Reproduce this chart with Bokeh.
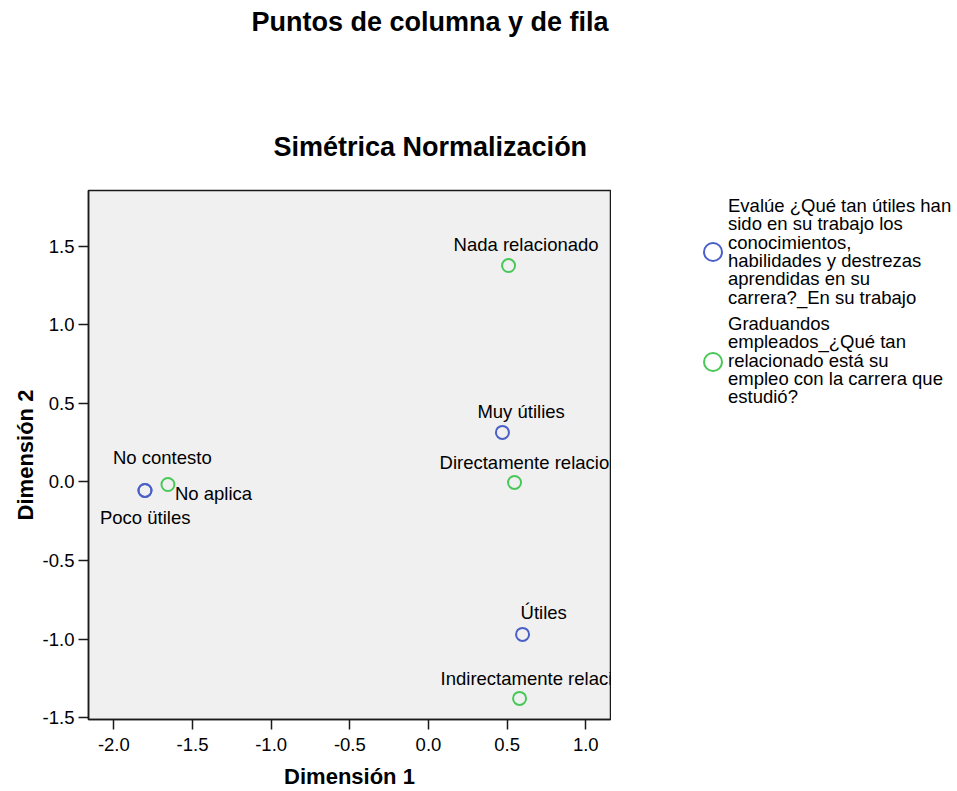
from bokeh.plotting import figure
from bokeh.layouts import row, column
from bokeh.models import (ColumnDataSource, Legend, LegendItem, Range1d, Title,
                          FixedTicker, NumeralTickFormatter)
from bokeh.core.properties import value
from bokeh.embed import file_html
from bokeh.resources import INLINE

# ---------------- data ----------------
row_categories = ["Muy útilies", "Útiles", "Poco ütiles", "No contesto"]
row_dim1 = [0.470, 0.598, -1.802, -1.802]
row_dim2 = [0.315, -0.969, -0.054, -0.054]

col_categories = ["Nada relacionado", "Directamente relacionado",
                  "Indirectamente relacionado", "No aplica"]
col_dim1 = [0.509, 0.547, 0.579, -1.656]
col_dim2 = [1.376, -0.003, -1.376, -0.016]

x_ticks = [-2.0, -1.5, -1.0, -0.5, 0.0, 0.5, 1.0]
y_ticks = [-1.5, -1.0, -0.5, 0.0, 0.5, 1.0, 1.5]

row_series_lines = ["Evalúe ¿Qué tan útiles han", "sido en su trabajo los",
                    "conocimientos,", "habilidades y destrezas",
                    "aprendidas en su", "carrera?_En su trabajo"]
col_series_lines = ["Graduandos", "empleados_¿Qué tan", "relacionado está su",
                    "empleo con la carrera que", "estudió?"]

main_title = "Puntos de columna y de fila"
sub_title = "Simétrica Normalización"
x_label = "Dimensión 1"
y_label = "Dimensión 2"

# ---------------- style ----------------
FONT = "Liberation Sans"
BLUE = "#4a60c8"
GREEN = "#48c858"
# label placement (screen px offsets, left aligned)
row_label_dx = [-25, -2, -45, -32]
row_label_dy = [-21, -22, 27, -33]
col_label_dx = [-55, -75, -79, 7]
col_label_dy = [-21, -20, -20, 9]

# ---------------- header (main title) ----------------
header = figure(width=611, height=100, output_backend="svg", toolbar_location=None,
                x_range=Range1d(0, 1), y_range=Range1d(0, 1),
                x_axis_location=None, y_axis_location=None,
                min_border_left=0, min_border_right=0, min_border_top=0,
                min_border_bottom=0, frame_align=False)
header.outline_line_color = None
header.grid.visible = False
header.title.text = main_title
header.title.align = "left"
header.title.offset = 251
header.title.standoff = 9
header.title.vertical_align = "bottom"
header.title.text_font = FONT
header.title.text_font_size = "27px"
header.title.text_font_style = "bold"
header.title.text_color = "black"

# ---------------- main plot ----------------
p = figure(width=611, height=691, output_backend="svg", toolbar_location=None,
           x_range=Range1d(-2.161, 1.157), y_range=Range1d(-1.51, 1.853),
           min_border_left=88, min_border_right=1, min_border_top=90,
           min_border_bottom=72, frame_align=False)
p.title.visible = False
p.background_fill_color = "#f0f0f0"
p.border_fill_color = "white"
p.outline_line_color = "#1a1a1a"
p.outline_line_width = 1.5
p.grid.visible = False

for ax, ticks in ((p.xaxis[0], x_ticks), (p.yaxis[0], y_ticks)):
    ax.ticker = FixedTicker(ticks=ticks)
    ax.formatter = NumeralTickFormatter(format="0.0")
    ax.minor_tick_line_color = None
    ax.major_tick_in = 0
    ax.major_tick_out = 10
    ax.major_tick_line_color = "#1a1a1a"
    ax.major_tick_line_width = 1.5
    ax.axis_line_color = "#1a1a1a"
    ax.axis_line_width = 1.5
    ax.major_label_text_font = FONT
    ax.major_label_text_font_size = "18.5px"
    ax.major_label_text_color = "black"
    ax.axis_label_text_font = FONT
    ax.axis_label_text_font_size = "22px"
    ax.axis_label_text_font_style = "bold"
    ax.axis_label_text_color = "black"
p.xaxis.axis_label = x_label
p.yaxis.axis_label = y_label
p.xaxis.major_label_standoff = 8
p.yaxis.major_label_standoff = 4
p.xaxis.axis_label_standoff = 10
p.yaxis.axis_label_standoff = 2

row_src = ColumnDataSource(dict(x=row_dim1, y=row_dim2, label=row_categories,
                                dx=row_label_dx, dy=row_label_dy))
col_src = ColumnDataSource(dict(x=col_dim1, y=col_dim2, label=col_categories,
                                dx=col_label_dx, dy=col_label_dy))

p.scatter("x", "y", source=row_src, marker="circle", size=13,
          fill_color=None, line_color=BLUE, line_width=2)
p.scatter("x", "y", source=col_src, marker="circle", size=13,
          fill_color=None, line_color=GREEN, line_width=2)

for src in (row_src, col_src):
    p.text("x", "y", text="label", source=src, x_offset="dx", y_offset="dy",
           text_align="left", text_baseline="middle",
           text_font=value(FONT), text_font_size="18.5px", text_color="black")

p.add_layout(Title(text=sub_title, align="left", offset=185, standoff=57,
                   vertical_align="bottom", text_font=FONT, text_font_size="27px",
                   text_font_style="bold", text_color="black"), "above")

# ---------------- legend panel ----------------
LG_H = 791
lg = figure(width=346, height=LG_H, output_backend="svg", toolbar_location=None,
            x_range=Range1d(0, 1), y_range=Range1d(0, 1),
            x_axis_location=None, y_axis_location=None,
            min_border_left=0, min_border_right=0, min_border_top=0,
            min_border_bottom=0, frame_align=False)
lg.title.visible = False
lg.outline_line_color = None
lg.background_fill_color = "white"
lg.border_fill_color = "white"
lg.grid.visible = False

# legend-only renderers (no visible points of their own)
nan = float("nan")
leg_row = lg.scatter(x=[nan], y=[nan], marker="circle", size=13, fill_color=None,
                     line_color=BLUE, line_width=2)
leg_col = lg.scatter(x=[nan], y=[nan], marker="circle", size=13, fill_color=None,
                     line_color=GREEN, line_width=2)

common = dict(padding=0, margin=0, background_fill_alpha=0, border_line_alpha=0,
              label_text_font=FONT, label_text_font_size="18.5px",
              label_text_color="black")

# glyph markers of the legend
lg.add_layout(Legend(items=[LegendItem(label="", renderers=[leg_row]),
                            LegendItem(label="", renderers=[leg_col])],
                     location=(78.5, 407), glyph_width=45, glyph_height=45,
                     label_standoff=0, spacing=65, **common))

# wrapped series names, one legend line each (tight line pitch as in the original)
PITCH = 18.3
HALF_LINE = 11


def add_name_block(lines, first_center):
    for k, t in enumerate(lines):
        center = first_center + k * PITCH
        lg.add_layout(Legend(items=[LegendItem(label=t, renderers=[])],
                             location=(116, LG_H - center - HALF_LINE),
                             glyph_width=1, glyph_height=1, label_standoff=0,
                             spacing=0, **common))


add_name_block(row_series_lines, 206)
add_name_block(col_series_lines, 324)

layout = row(column(header, p), lg)
open("out.html", "w").write(file_html(layout, INLINE))
